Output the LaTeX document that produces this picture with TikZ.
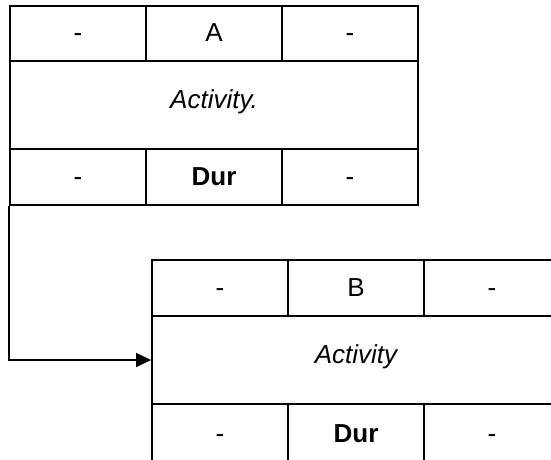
\documentclass[tikz,border=0pt]{standalone}
\usepackage{fontspec}
\setmainfont{Liberation Sans}
\usetikzlibrary{arrows.meta}
\tikzset{
    cell/.style={draw, line width=1.8pt, minimum width=136pt, minimum height=55.5pt,
        inner sep=0pt, text height=19pt, text depth=3pt, font=\fontsize{26}{31}\selectfont},
    actbox/.style={cell, minimum width=408pt, minimum height=88pt, text depth=13pt}
}
\begin{document}
\begin{tikzpicture}[x=1pt, y=-1pt]
    \clip (0,0) rectangle (551,459);
    \fill[white] (0,0) rectangle (551,459);

    % Activity A
    \node[cell] (Aes) at (78,33.5) {-};
    \node[cell] (Aname) at (214,33.5) {A};
    \node[cell] (Aef) at (350,33.5) {-};
    \node[actbox] (Aact) at (214,105) {\itshape Activity.};
    \node[cell] (Als) at (78,177) {-};
    \node[cell] (Adur) at (214,177) {\bfseries Dur};
    \node[cell] (Alf) at (350,177) {-};

    % Activity B
    \node[cell] (Bes) at (220,288) {-};
    \node[cell] (Bname) at (356,288) {B};
    \node[cell] (Bef) at (492,288) {-};
    \node[actbox] (Bact) at (356,360) {\itshape Activity};
    \node[cell, minimum height=60pt] (Bls) at (220,434) {-};
    \node[cell, minimum height=60pt] (Bdur) at (356,434) {\bfseries Dur};
    \node[cell, minimum height=60pt] (Blf) at (492,434) {-};

    % Link
    \draw[line width=1.3pt, -{Triangle[length=15pt, width=14pt]}] (Als.south west) |- (Bact.west);
\end{tikzpicture}
\end{document}
